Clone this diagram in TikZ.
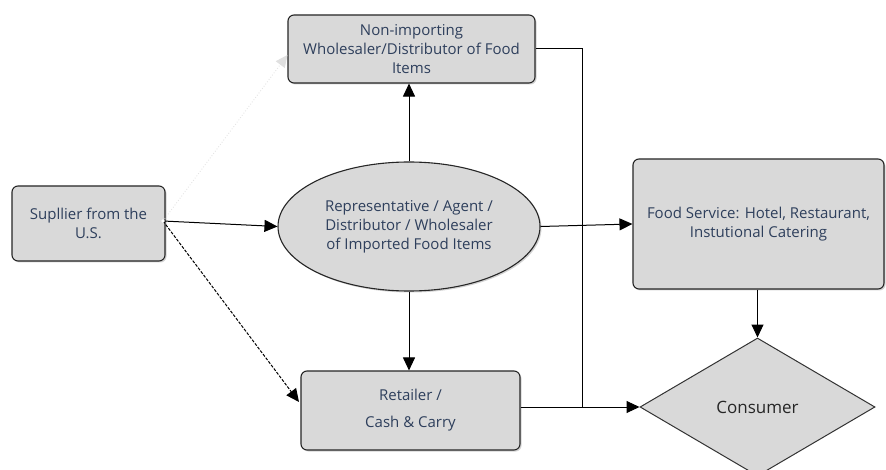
\documentclass[tikz,border=0pt]{standalone}
\usepackage{fontspec}
\setmainfont{Open Sans}
\usetikzlibrary{arrows.meta,shapes.geometric,shadows}
\definecolor{boxfill}{HTML}{D9D9D9}
\definecolor{txt}{HTML}{2E3F5C}
\begin{document}
\begin{tikzpicture}[x=1pt,y=-1pt,
  box/.style={draw=black!85, line width=1.1pt, fill=boxfill, rounded corners=6pt,
    align=center, text=txt, font=\fontsize{15}{19}\selectfont, inner sep=2pt,
    drop shadow={shadow xshift=1.5pt, shadow yshift=-1.5pt, opacity=0.35}},
  oval/.style={ellipse, draw=black!85, line width=1.1pt, fill=boxfill, align=center, text=txt,
    font=\fontsize{15}{19}\selectfont, inner sep=0pt,
    drop shadow={shadow xshift=1.5pt, shadow yshift=-1.5pt, opacity=0.35}},
  dia/.style={diamond, draw=black!80, line width=1pt, fill=boxfill, inner sep=0pt,
    font=\fontsize{17}{20}\selectfont, text=black!85},
  conn/.style={line width=1pt, -{Triangle[length=13pt,width=12pt]}},
  plain/.style={line width=1pt}
]
\useasboundingbox (0,0) rectangle (886,470);
\fill[white] (0,0) rectangle (886,470);

\node[box, minimum width=247pt, minimum height=68pt] (nonimp) at (411.5,49)
  {Non-importing\\Wholesaler/Distributor of Food\\Items};
\node[box, minimum width=153pt, minimum height=75pt] (sup) at (88.5,223.5)
  {Supllier from the\\U.S.};
\node[oval, minimum width=262pt, minimum height=129pt] (rep) at (409,226.5)
  {Representative / Agent /\\Distributor / Wholesaler\\of Imported Food Items};
\node[box, minimum width=251pt, minimum height=130pt] (food) at (758.5,224)
  {Food Service: Hotel, Restaurant,\\Instutional Catering};
\node[box, minimum width=219pt, minimum height=79pt, font=\fontsize{15}{27}\selectfont] (ret) at (410.5,410.5)
  {Retailer /\\Cash \& Carry};
\node[dia, minimum width=235pt, minimum height=138pt] (con) at (757.5,407) {Consumer};

\coordinate (s1) at (163,221);
\coordinate (junc) at (582,407);
\coordinate (corner) at (582,49);

\draw[conn] (s1) -- (rep.west);
\draw[line width=0.8pt, black!12, dotted, -{Triangle[length=12pt,width=11pt]}] (s1) -- (nonimp.west |- 0,55);
\draw[conn, dashed, dash pattern=on 3pt off 1.5pt] (s1) -- (299,402);
\draw[conn] (rep.north) -- (rep.north |- nonimp.south);
\draw[conn] (rep.south) -- (rep.south |- ret.north);
\draw[conn] (rep.east) -- (food.west);
\draw[plain] (nonimp.east |- corner) -- (corner) -- (junc);
\draw[conn] (ret.east |- junc) -- (con.west);
\draw[conn] (con.north |- food.south) -- (con.north);
\fill[white] (s1) circle (1.8pt);
\end{tikzpicture}
\end{document}
